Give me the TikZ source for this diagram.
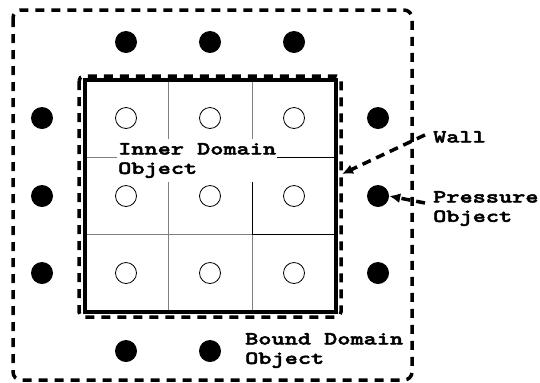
\documentclass[tikz,border=0pt]{standalone}
\usepackage{fontspec}
\usetikzlibrary{arrows.meta}
\newfontfamily\labelfont{lmmonolt10-bold.otf}[FakeStretch=1.36,FakeBold=2.5]
\begin{document}
\begin{tikzpicture}[x=1bp,y=-1bp,
  boundary/.style={line width=3.5bp, dash pattern=on 9bp off 7bp, rounded corners=8bp},
  wallline/.style={line width=4bp},
  gridline/.style={line width=1bp, draw=black!50},
  cellline/.style={line width=1bp, draw=black},
  pressure/.style={circle, fill=black, inner sep=0, minimum size=22bp},
  cellpt/.style={circle, draw=black, line width=0.8bp, fill=white, inner sep=0, minimum size=21bp},
  label/.style={font=\labelfont\fontsize{18.5}{19.5}\selectfont, inner sep=0, align=left, anchor=north west},
  pointer/.style={line width=3.5bp, dash pattern=on 9bp off 6bp, -{Latex[length=11bp,width=10bp]}}]
\useasboundingbox (0,0) rectangle (540,382);

% outer (bound domain) boundary
\draw[boundary] (13,10) rectangle (412,380);

% grid of the inner domain
\draw[gridline] (168,80) -- (168,312) (252,80) -- (252,312)
                (85,157) -- (336,157) (85,234) -- (336,234);
\draw[cellline] (277,157) -- (336,157) (252,179) -- (252,234) -- (336,234);

% inner dashed boundary and solid wall
\draw[boundary, rounded corners=5bp] (79,76) rectangle (341,317);
\draw[wallline] (85,80) rectangle (336,312);

% cell points of the inner domain
\foreach \i/\x in {1/126,2/210,3/294}
  \foreach \j/\y in {1/118,2/196,3/273}
    \node[cellpt] (c\i\j) at (\x,\y) {};

% pressure points around the wall
\node[pressure] (t1) at (126,42) {};
\node[pressure] (t2) at (210,42) {};
\node[pressure] (t3) at (294,42) {};
\node[pressure] (l1) at (42,118) {};
\node[pressure] (l2) at (42,196) {};
\node[pressure] (l3) at (42,273) {};
\node[pressure] (r1) at (378,118) {};
\node[pressure] (r2) at (378,196) {};
\node[pressure] (r3) at (378,273) {};
\node[pressure] (b1) at (126,351) {};
\node[pressure] (b2) at (210,351) {};

% labels
\node[label, fill=white, inner xsep=1bp, inner ysep=4bp] (inner) at (117,139) {Inner Domain\\Object};
\node[label] (wall) at (433,131) {Wall};
\node[label] (pres) at (433,191) {Pressure\\Object};
\node[label] (bound) at (245,333) {Bound Domain\\Object};

% pointers
\coordinate (wallpt) at (342,174);
\draw[pointer] ([xshift=-8bp,yshift=2bp]wall.west) -- (wallpt);
\draw[pointer] ([xshift=-8bp]pres.north west |- 0,203) -- (r2.east);
\end{tikzpicture}
\end{document}
